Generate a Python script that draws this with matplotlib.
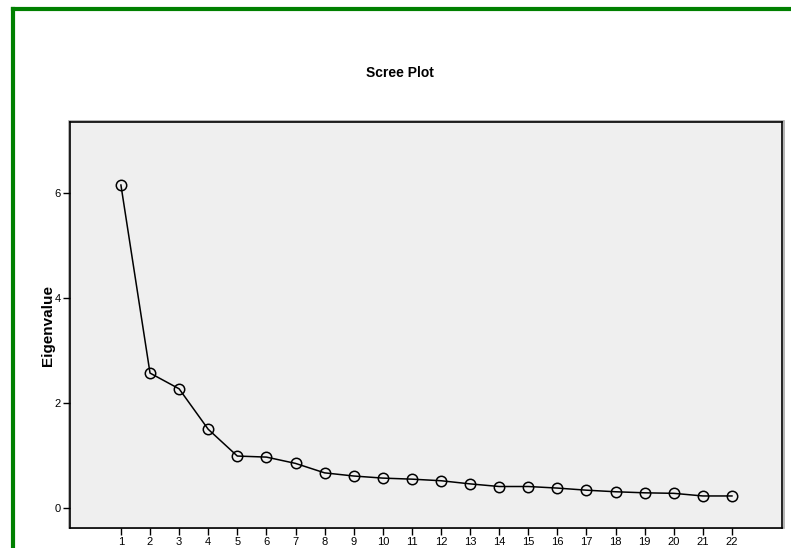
import matplotlib

matplotlib.use('Agg')
import matplotlib.pyplot as plt
from matplotlib.patches import Rectangle
from matplotlib.lines import Line2D

plt.rcParams['font.family'] = ['Liberation Sans', 'DejaVu Sans']

# Eigenvalues, one per component
components = list(range(1, 23))
eigenvalues = [6.15, 2.57, 2.27, 1.50, 0.99, 0.97, 0.85, 0.67, 0.61, 0.57, 0.55,
               0.52, 0.46, 0.41, 0.41, 0.38, 0.34, 0.31, 0.29, 0.28, 0.23, 0.23]
y_ticks = [0, 2, 4, 6]

fig = plt.figure(figsize=(7.91, 5.48), dpi=100)

left, right, top, bottom = 70 / 791, 782 / 791, 1 - 122 / 548, 1 - 528 / 548
ax = fig.add_axes([left, bottom, right - left, top - bottom])
ax.set_facecolor('#efefef')

# light grey halo round the plot frame
fig.add_artist(Rectangle((left - 1.5 / 791, bottom), right - left + 3 / 791,
                         top - bottom + 1.5 / 548, transform=fig.transFigure,
                         fill=False, edgecolor='#a8a8a8', linewidth=1.2, zorder=0))

ax.plot(components, eigenvalues, color='black', linewidth=1.1,
        marker='o', markersize=7.5, markerfacecolor='none',
        markeredgecolor='black', markeredgewidth=1.1)

ax.set_xlim(-0.75, 23.72)
ax.set_ylim(-0.38, 7.35)
ax.set_xticks(components)
ax.set_yticks(y_ticks)
ax.tick_params(axis='both', direction='out', length=5, width=1,
               labelsize=8, pad=1.5, colors='black')
for s in ax.spines.values():
    s.set_linewidth(1.2)
    s.set_color('black')

ax.set_ylabel('Eigenvalue', fontsize=11, fontweight='bold', labelpad=0)
fig.text(400 / 791, 1 - 73 / 548, 'Scree Plot', fontsize=10, fontweight='bold',
         ha='center', va='center')

# green frame on the left and top edges
fig.add_artist(Line2D([13 / 791, 13 / 791], [0, 1 - 9 / 548], transform=fig.transFigure,
                      color='#008000', linewidth=3, solid_capstyle='projecting'))
fig.add_artist(Line2D([13 / 791, 1], [1 - 9 / 548, 1 - 9 / 548], transform=fig.transFigure,
                      color='#008000', linewidth=3, solid_capstyle='projecting'))

fig.savefig('out.png', dpi=100)
